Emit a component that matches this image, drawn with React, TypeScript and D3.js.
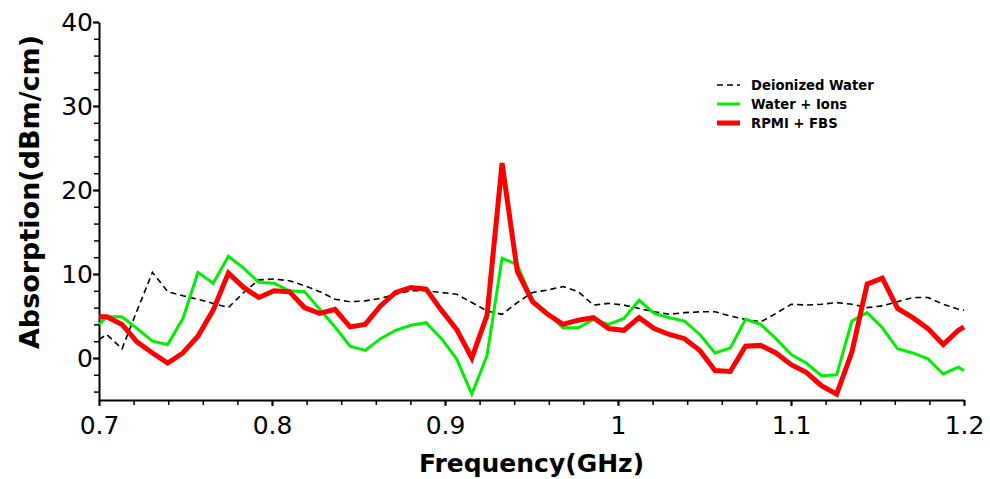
import React, { useEffect, useRef } from 'react';
import * as d3 from 'd3';

// frequency grid (GHz)
const freq = [
  0.7, 0.7045, 0.7133, 0.7221, 0.7309, 0.7397, 0.7485, 0.7572, 0.766, 0.7748, 0.7836,
  0.7924, 0.8012, 0.81, 0.8188, 0.8276, 0.8364, 0.8451, 0.8539, 0.8627, 0.8715,
  0.8803, 0.8891, 0.8979, 0.9067, 0.9155, 0.9243, 0.933, 0.9418, 0.9506, 0.9594,
  0.9682, 0.977, 0.9858, 0.9946, 1.0034, 1.0122, 1.0209, 1.0297, 1.0385, 1.0473,
  1.0561, 1.0649, 1.0737, 1.0825, 1.0913, 1.1001, 1.1088, 1.1176, 1.1264, 1.1352,
  1.144, 1.1528, 1.1616, 1.1704, 1.1792, 1.188, 1.1968, 1.2,
];

const deionized = [
  2.2, 2.8, 1.1, 5.7, 10.2, 7.9, 7.4, 7.0, 6.5, 6.0, 7.8,
  9.3, 9.4, 9.2, 8.6, 7.9, 7.0, 6.7, 6.8, 7.1, 7.6,
  8.0, 8.0, 7.8, 7.6, 6.6, 5.6, 5.2, 6.6, 7.8, 8.1,
  8.5, 7.9, 6.3, 6.5, 6.3, 5.9, 5.5, 5.2, 5.4, 5.5,
  5.5, 5.0, 4.6, 4.3, 5.3, 6.4, 6.3, 6.4, 6.6, 6.4,
  6.0, 6.2, 6.7, 7.2, 7.2, 6.4, 5.8, 5.7,
];

const waterIons = [
  4.0, 4.9, 4.9, 3.5, 2.0, 1.6, 4.7, 10.2, 8.9, 12.1, 10.7,
  9.0, 8.9, 8.0, 7.9, 5.8, 3.7, 1.4, 0.9, 2.3, 3.3,
  3.9, 4.2, 2.3, -0.1, -4.3, 0.3, 11.9, 11.1, 6.9, 5.3,
  3.6, 3.6, 4.6, 4.0, 4.7, 6.9, 5.3, 4.8, 4.4, 2.8,
  0.6, 1.2, 4.6, 4.0, 2.3, 0.4, -0.6, -2.1, -2.0, 4.4,
  5.4, 3.6, 1.1, 0.6, -0.1, -1.9, -1.1, -1.5,
];

const rpmiFbs = [
  4.9, 4.9, 4.0, 1.9, 0.6, -0.6, 0.6, 2.6, 5.7, 10.1, 8.4,
  7.2, 8.0, 7.9, 6.0, 5.3, 5.8, 3.7, 4.0, 6.2, 7.8,
  8.4, 8.2, 5.7, 3.4, 0.0, 5.1, 23.2, 10.3, 6.7, 5.2,
  4.0, 4.5, 4.8, 3.5, 3.3, 4.8, 3.5, 2.8, 2.3, 0.9,
  -1.5, -1.6, 1.4, 1.5, 0.6, -0.8, -1.7, -3.3, -4.3, 0.7,
  8.8, 9.5, 5.9, 4.8, 3.5, 1.6, 3.3, 3.7,
];

const series = [
  { name: 'Deionized Water', values: deionized, color: '#000000', width: 1.6, dash: '6,4' },
  { name: 'Water + Ions', values: waterIons, color: '#00ee00', width: 3, dash: null },
  { name: 'RPMI + FBS', values: rpmiFbs, color: '#ff0000', width: 5, dash: null },
];

const xTicks = [0.7, 0.8, 0.9, 1.0, 1.1, 1.2];
const yTicks = [0, 10, 20, 30, 40];

const W = 990;
const H = 479;
const margin = { left: 99, right: 26, top: 22, bottom: 79 };

export default function App() {
  const svgRef = useRef<SVGSVGElement>(null);

  useEffect(() => {
    const svg = d3.select(svgRef.current);
    svg.selectAll('*').remove();

    const x = d3.scaleLinear().domain([0.7, 1.2]).range([margin.left, W - margin.right]);
    const y = d3.scaleLinear().domain([-5, 40]).range([H - margin.bottom, margin.top]);

    const tickFont = "'DejaVu Sans', sans-serif";

    // minor ticks
    svg
      .append('g')
      .attr('transform', `translate(0,${H - margin.bottom})`)
      .call(d3.axisBottom(x).tickValues(d3.range(0.7, 1.2001, 0.02)).tickSize(5).tickFormat(() => ''))
      .call(g => g.select('.domain').remove())
      .call(g => g.selectAll('line').attr('stroke-width', 1.5));
    svg
      .append('g')
      .attr('transform', `translate(${margin.left},0)`)
      .call(d3.axisLeft(y).tickValues(d3.range(-4, 40.001, 2)).tickSize(5).tickFormat(() => ''))
      .call(g => g.select('.domain').remove())
      .call(g => g.selectAll('line').attr('stroke-width', 1.5));

    // major ticks + labels
    const xAxis = svg
      .append('g')
      .attr('transform', `translate(0,${H - margin.bottom})`)
      .call(
        d3.axisBottom(x)
          .tickValues(xTicks)
          .tickSize(6)
          .tickSizeOuter(0)
          .tickFormat(d => String(+d)),
      );
    xAxis.select('.domain').attr('stroke-width', 2);
    xAxis.selectAll('line').attr('stroke-width', 2);
    xAxis
      .selectAll('text')
      .attr('font-family', tickFont)
      .attr('font-size', 25)
      .attr('fill', '#000')
      .attr('dy', '1.0em');

    const yAxis = svg
      .append('g')
      .attr('transform', `translate(${margin.left},0)`)
      .call(d3.axisLeft(y).tickValues(yTicks).tickSize(6).tickSizeOuter(0));
    yAxis.select('.domain').attr('stroke-width', 2);
    yAxis.selectAll('line').attr('stroke-width', 2);
    yAxis
      .selectAll('text')
      .attr('font-family', tickFont)
      .attr('font-size', 25)
      .attr('fill', '#000')
      .attr('x', -6);

    // axis titles
    svg
      .append('text')
      .attr('x', (margin.left + W - margin.right) / 2)
      .attr('y', 472)
      .attr('text-anchor', 'middle')
      .attr('font-family', tickFont)
      .attr('font-weight', 'bold')
      .attr('font-size', 25)
      .text('Frequency(GHz)');

    svg
      .append('text')
      .attr('transform', `translate(39,192) rotate(-90)`)
      .attr('text-anchor', 'middle')
      .attr('font-family', tickFont)
      .attr('font-weight', 'bold')
      .attr('font-size', 27)
      .text('Absorption(dBm/cm)');

    // lines
    const line = d3
      .line<number>()
      .x((_, i) => x(freq[i]))
      .y(d => y(d));

    series.forEach(s => {
      svg
        .append('path')
        .datum(s.values)
        .attr('fill', 'none')
        .attr('stroke', s.color)
        .attr('stroke-width', s.width)
        .attr('stroke-linejoin', 'miter')
        .attr('stroke-dasharray', s.dash)
        .attr('d', line);
    });

    // legend
    const legend = svg.append('g').attr('transform', 'translate(717,85)');
    series.forEach((s, i) => {
      const row = legend.append('g').attr('transform', `translate(0,${i * 19})`);
      row
        .append('line')
        .attr('x1', 0)
        .attr('x2', 23)
        .attr('stroke', s.color)
        .attr('stroke-width', s.width)
        .attr('stroke-dasharray', s.dash);
      row
        .append('text')
        .attr('x', 34)
        .attr('dy', '0.35em')
        .attr('font-family', tickFont)
        .attr('font-weight', 'bold')
        .attr('font-size', 13.2)
        .text(s.name);
    });
  }, []);

  return (
    <svg
      ref={svgRef}
      width={W}
      height={H}
      style={{ position: 'absolute', left: 0, top: 0, background: '#fff' }}
    />
  );
}
